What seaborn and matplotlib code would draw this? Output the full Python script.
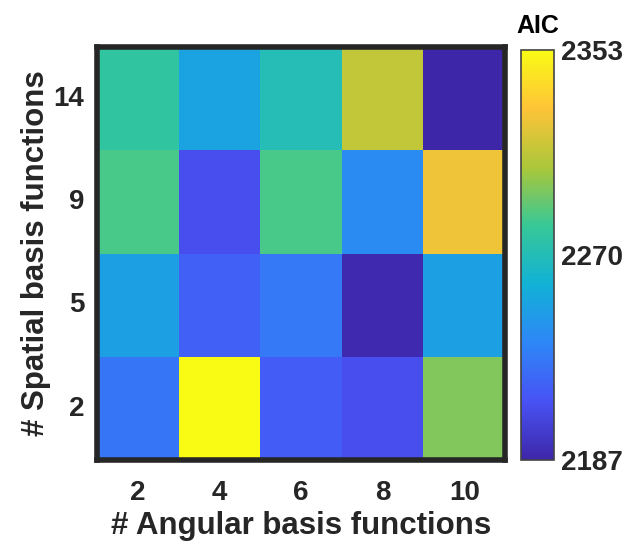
import numpy as np
import pandas as pd
import matplotlib
matplotlib.use("Agg")
import matplotlib.pyplot as plt
from matplotlib.colors import LinearSegmentedColormap
import seaborn as sns

# Model selection grid: AIC for each combination of basis-function counts
angular_basis = [2, 4, 6, 8, 10]
spatial_basis = [14, 9, 5, 2]          # top row first
aic_14 = [2278, 2250, 2270, 2312, 2187]
aic_9 = [2285, 2209, 2285, 2237, 2325]
aic_5 = [2248, 2217, 2228, 2189, 2248]
aic_2 = [2227, 2353, 2215, 2209, 2297]
cbar_ticks = [2187, 2270, 2353]

# Parula-like colormap
parula_pts = [
    (0.2422, 0.1504, 0.6603),
    (0.2810, 0.3228, 0.9579),
    (0.1786, 0.5289, 0.9682),
    (0.0689, 0.6948, 0.8394),
    (0.2161, 0.7843, 0.5923),
    (0.6720, 0.7793, 0.2227),
    (0.9970, 0.7659, 0.2199),
    (0.9769, 0.9839, 0.0805),
]
parula = LinearSegmentedColormap.from_list("parula", parula_pts, N=256)

df = pd.DataFrame([aic_14, aic_9, aic_5, aic_2],
                  index=spatial_basis, columns=angular_basis)

sns.set_theme(style="white")
plt.rcParams["font.family"] = ["Liberation Sans", "DejaVu Sans"]
plt.rcParams["font.weight"] = "bold"
txt = "#262626"

fig = plt.figure(figsize=(6.25, 5.46), dpi=100)
ax = fig.add_axes([0.155, 0.157, 0.653, 0.757])
cax = fig.add_axes([0.834, 0.157, 0.052, 0.752])

sns.heatmap(df, ax=ax, cmap=parula, vmin=min(cbar_ticks), vmax=max(cbar_ticks),
            cbar_ax=cax, cbar_kws={"ticks": cbar_ticks})

for s in ax.spines.values():
    s.set_visible(True)
    s.set_color("#262626")
    s.set_linewidth(4)

ax.tick_params(axis="y", length=0, labelsize=20, colors=txt, pad=9)
ax.tick_params(axis="x", length=0, labelsize=20, colors=txt, pad=14)
ax.set_yticklabels(spatial_basis, rotation=0, fontweight="bold")
ax.set_xticklabels(angular_basis, fontweight="bold")
ax.set_xlabel("# Angular basis functions", fontsize=22.5, fontweight="bold",
              color=txt, labelpad=4)
ax.set_ylabel("# Spatial basis functions", fontsize=22.5, fontweight="bold",
              color=txt, labelpad=2)

cb = ax.collections[0].colorbar
cb.outline.set_visible(True)
cb.outline.set_edgecolor("#444444")
cb.outline.set_linewidth(1.2)
cax.tick_params(length=0, labelsize=20, colors=txt, pad=5)
for t in cax.get_yticklabels():
    t.set_fontweight("bold")
cax.set_title("AIC", fontsize=18, fontweight="bold", color="black", pad=12)

fig.savefig("out.png", dpi=100, facecolor="white")
